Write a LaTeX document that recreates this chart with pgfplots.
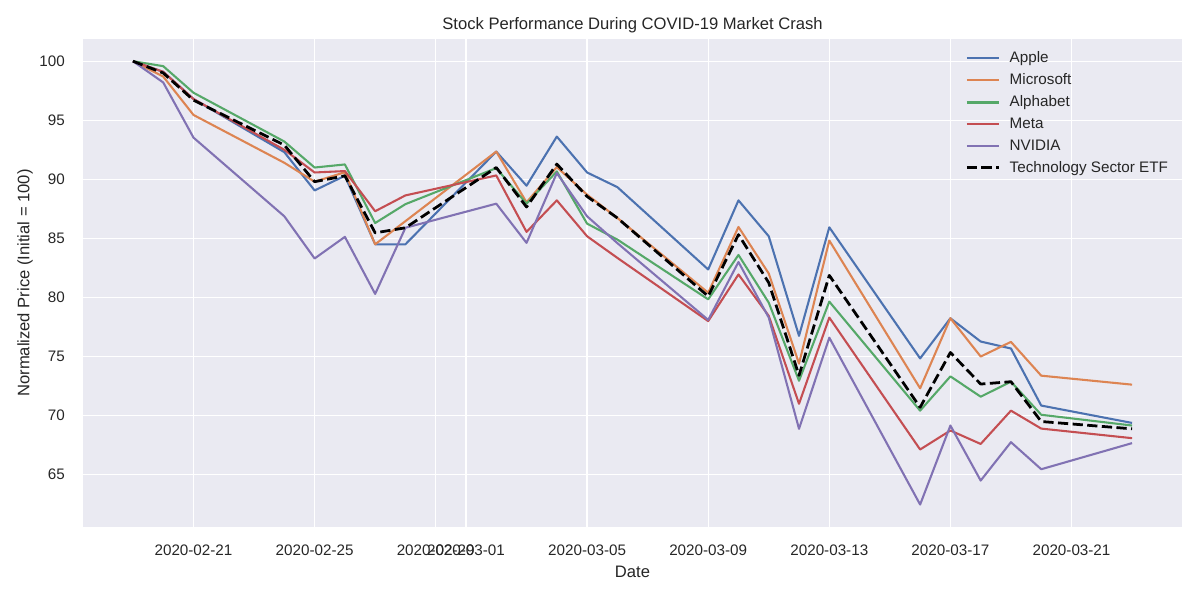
\documentclass[border=0pt]{standalone}
\usepackage{fontspec}
\setmainfont{Liberation Sans}
\usepackage{pgfplots}
\usepackage{pgfplotstable}
\pgfplotsset{compat=1.18}

\definecolor{bgc}{HTML}{EAEAF2}
\definecolor{txt}{HTML}{262626}
\definecolor{cA}{HTML}{4C72B0}
\definecolor{cB}{HTML}{DD8452}
\definecolor{cC}{HTML}{55A868}
\definecolor{cD}{HTML}{C44E52}
\definecolor{cE}{HTML}{8172B3}

% d = trading day as days after 2020-02-19
\pgfplotstableread{
d  aapl   msft   googl  meta   nvda   etf
0  100    100    100    100    100    100
1  99.10  98.70  99.58  99.10  98.20  99.00
2  96.80  95.45  97.33  96.80  93.53  96.70
5  92.30  91.40  93.20  92.50  86.87  92.90
6  89.06  89.80  91.00  90.58  83.30  89.80
7  90.30  90.60  91.26  90.70  85.13  90.30
8  84.50  84.50  86.30  87.30  80.30  85.47
9  84.50  86.46  87.90  88.64  85.90  85.90
12 92.35  92.35  90.95  90.33  87.94  91.00
13 89.46  88.05  87.94  85.55  84.62  87.66
14 93.62  91.04  90.67  88.22  90.53  91.29
15 90.58  88.70  86.25  85.18  86.87  88.55
16 89.34  86.73  84.90  83.35  84.60  86.73
19 82.37  80.40  79.84  78.00  78.10  80.10
20 88.22  85.97  83.60  81.95  83.00  85.32
21 85.18  82.03  79.56  78.44  78.30  81.25
22 76.75  74.40  72.95  71.00  68.88  73.40
23 85.94  84.82  79.65  78.30  76.60  81.87
26 74.84  72.31  70.42  67.13  62.47  70.70
27 78.24  78.24  73.32  68.74  69.16  75.34
28 76.27  75.00  71.60  67.60  64.50  72.67
29 75.68  76.24  72.87  70.42  67.75  72.87
30 70.85  73.38  70.07  68.90  65.46  69.50
33 69.38  72.62  69.16  68.09  67.67  68.88
}\stocks

\begin{document}
\begin{tikzpicture}
\useasboundingbox (0,0) rectangle (12in,6in);
\begin{axis}[
  at={(0.83in,0.73in)}, anchor=south west,
  width=10.99in, height=4.88in, scale only axis,
  xmin=-1.65, xmax=34.65, ymin=60.57, ymax=101.88,
  axis background/.style={fill=bgc},
  axis line style={draw=none},
  major tick length=0pt,
  grid=major,
  grid style={white, line width=1pt},
  xtick={2,6,10,11,15,19,23,27,31},
  xticklabels={2020-02-21,2020-02-25,2020-02-29,2020-03-01,2020-03-05,2020-03-09,2020-03-13,2020-03-17,2020-03-21},
  ytick={65,70,...,100},
  /pgf/number format/assume math mode=true,
  tick label style={font=\fontsize{11}{13}\selectfont, text=txt},
  xticklabel style={inner sep=0pt, anchor=north, yshift=-12.5pt},
  yticklabel style={inner sep=0pt, anchor=east, xshift=-13pt},
  title={Stock Performance During COVID-19 Market Crash},
  title style={font=\fontsize{12}{14}\selectfont, text=txt, at={(0.5,1)}, anchor=south, inner sep=0pt, yshift=-2pt},
  xlabel={Date},
  xlabel style={font=\fontsize{12}{14}\selectfont, text=txt, at={(axis description cs:0.5,0)}, anchor=north, inner sep=0pt, yshift=-28pt},
  ylabel={Normalized Price (Initial = 100)},
  ylabel style={font=\fontsize{12}{14}\selectfont, text=txt, at={(axis description cs:-0.0455,0.5)}, anchor=south, rotate=0, inner sep=0pt},
  legend cell align=left,
  legend image code/.code={\draw[#1] (0pt,0pt) -- (23pt,0pt); \path (27pt,0pt);},
  legend style={draw=none, fill=none, at={(1,1)}, anchor=north east,
    xshift=-7pt, yshift=-8pt, font=\fontsize{11}{13}\selectfont, text=txt,
    row sep=4.5pt, inner sep=0pt,
    nodes={inner xsep=3pt, inner ysep=1pt}},
  every axis plot/.append style={line width=1.5pt, line join=round},
]
\addplot[cA] table[x=d, y=aapl] {\stocks};
\addlegendentry{Apple}
\addplot[cB] table[x=d, y=msft] {\stocks};
\addlegendentry{Microsoft}
\addplot[cC] table[x=d, y=googl] {\stocks};
\addlegendentry{Alphabet}
\addplot[cD] table[x=d, y=meta] {\stocks};
\addlegendentry{Meta}
\addplot[cE] table[x=d, y=nvda] {\stocks};
\addlegendentry{NVIDIA}
\addplot[black, line width=2pt, dash pattern=on 7.4pt off 3.2pt] table[x=d, y=etf] {\stocks};
\addlegendentry{Technology Sector ETF}
\end{axis}
\end{tikzpicture}
\end{document}
